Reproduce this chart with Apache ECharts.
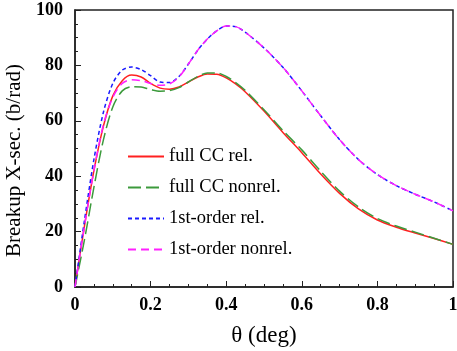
<!DOCTYPE html>
<html>
<head>
<meta charset="utf-8">
<script src="https://cdn.jsdelivr.net/npm/echarts@6/dist/echarts.min.js"></script>
<style>
    html, body {margin:0;padding:0;background:#fff}
    #chart {width:457px;height:351px}
</style>
</head>
<body>
<div id="chart"></div>
<script>
    // theta (deg)
    var theta = [0, 0.025, 0.05, 0.075, 0.1, 0.125, 0.15, 0.175, 0.2, 0.225, 0.25, 0.275, 0.3, 0.325, 0.35, 0.375, 0.4, 0.425, 0.45, 0.5, 0.55, 0.6, 0.65, 0.7, 0.75, 0.8, 0.85, 0.9, 0.95, 1];

    var fullRel    = [0, 22, 42, 58, 69, 74.5, 76.5, 75.8, 73.5, 71.8, 71.4, 72.2, 74, 75.8, 76.9, 76.8, 75.5, 73.3, 70.5, 63.5, 55.8, 48.5, 40.8, 33.8, 28.2, 24.2, 21.6, 19.5, 17.5, 15.4];
    var fullNonrel = [0, 17, 36, 53, 65, 70.8, 72.3, 72.2, 71.3, 70.7, 70.9, 72, 74, 76, 77.3, 77.3, 76, 73.8, 71, 64, 56.5, 49.5, 41.8, 34.6, 28.9, 24.7, 22, 19.8, 17.6, 15.4];
    var firstRel   = [0, 24, 46, 63, 73.5, 78.3, 79.4, 78.5, 76.3, 74, 73.8, 76, 80.5, 85.5, 89.5, 92.5, 94.2, 94, 92, 86.3, 79.3, 70.8, 61.8, 53.2, 46, 40.6, 36.6, 33.5, 30.7, 27.5];
    var firstNonrel= [0, 22, 42, 58.5, 68.5, 73.5, 74.8, 74.5, 73.5, 72.8, 73.3, 75.8, 80.5, 85.5, 89.5, 92.5, 94.2, 94, 92, 86.3, 79.3, 70.8, 61.8, 53.2, 46, 40.6, 36.6, 33.5, 30.7, 27.5];

    var names = ['full CC rel.', 'full CC nonrel.', '1st-order rel.', '1st-order nonrel.'];

    var serif = "'Liberation Serif', 'DejaVu Serif', 'Times New Roman', serif";

    function pairs(ys) {
        var out = [];
        for (var i = 0; i < theta.length; i++) out.push([theta[i], ys[i]]);
        return out;
    }

    function line(name, ys, color, dash) {
        return {
            name: name,
            type: 'line',
            data: pairs(ys),
            smooth: 0.3,
            showSymbol: false,
            symbol: 'none',
            lineStyle: {color: color, width: 1.5, type: dash},
            itemStyle: {color: color}
        };
    }

    var chart = echarts.init(document.getElementById('chart'));
    var option = {
        animation: false,
        grid: {
            left: 75, right: 4, top: 10, bottom: 64,
            outerBoundsMode: 'none',
            show: true, borderColor: '#222', borderWidth: 1.5, backgroundColor: 'transparent'
        },
        legend: {
            orient: 'vertical',
            left: 122,
            top: 142,
            itemWidth: 36,
            itemHeight: 12,
            itemGap: 12,
            data: names,
            itemStyle: {opacity: 0},
            textStyle: {fontFamily: serif, fontSize: 18.5, color: '#000'}
        },
        xAxis: {
            type: 'value',
            min: 0, max: 1, interval: 0.2,
            name: 'θ (deg)',
            nameLocation: 'middle',
            nameGap: 37,
            nameTextStyle: {fontFamily: serif, fontSize: 23, color: '#000'},
            axisLine: {lineStyle: {color: '#222', width: 1.5}},
            axisTick: {inside: true, length: 6, lineStyle: {color: '#222'}},
            minorTick: {show: true, splitNumber: 4, length: 3, lineStyle: {color: '#222'}},
            splitLine: {show: false},
            axisLabel: {fontFamily: serif, fontWeight: 'bold', fontSize: 18, color: '#000', margin: 9,
                formatter: function (v) { return v === 0 ? '0' : (v === 1 ? '1' : v.toFixed(1)); }}
        },
        yAxis: {
            type: 'value',
            min: 0, max: 100, interval: 20,
            name: 'Breakup X-sec. (b/rad)',
            nameLocation: 'middle',
            nameGap: 44,
            nameTextStyle: {fontFamily: serif, fontSize: 21, color: '#000', padding: [0, 24, 0, 0]},
            axisLine: {show: true, lineStyle: {color: '#222', width: 1.5}},
            axisTick: {show: true, inside: true, length: 6, lineStyle: {color: '#222'}},
            minorTick: {show: true, splitNumber: 4, length: 3, lineStyle: {color: '#222'}},
            splitLine: {show: false},
            axisLabel: {fontFamily: serif, fontWeight: 'bold', fontSize: 18, color: '#000', margin: 12}
        },
        series: [
            line(names[0], fullRel, '#ff2020', 'solid'),
            line(names[1], fullNonrel, '#3c9a3c', [13, 5]),
            line(names[2], firstRel, '#1a1aff', [4, 3]),
            line(names[3], firstNonrel, '#ff20ff', [8, 5])
        ]
    };
    chart.setOption(option);
</script>
</body>
</html>
